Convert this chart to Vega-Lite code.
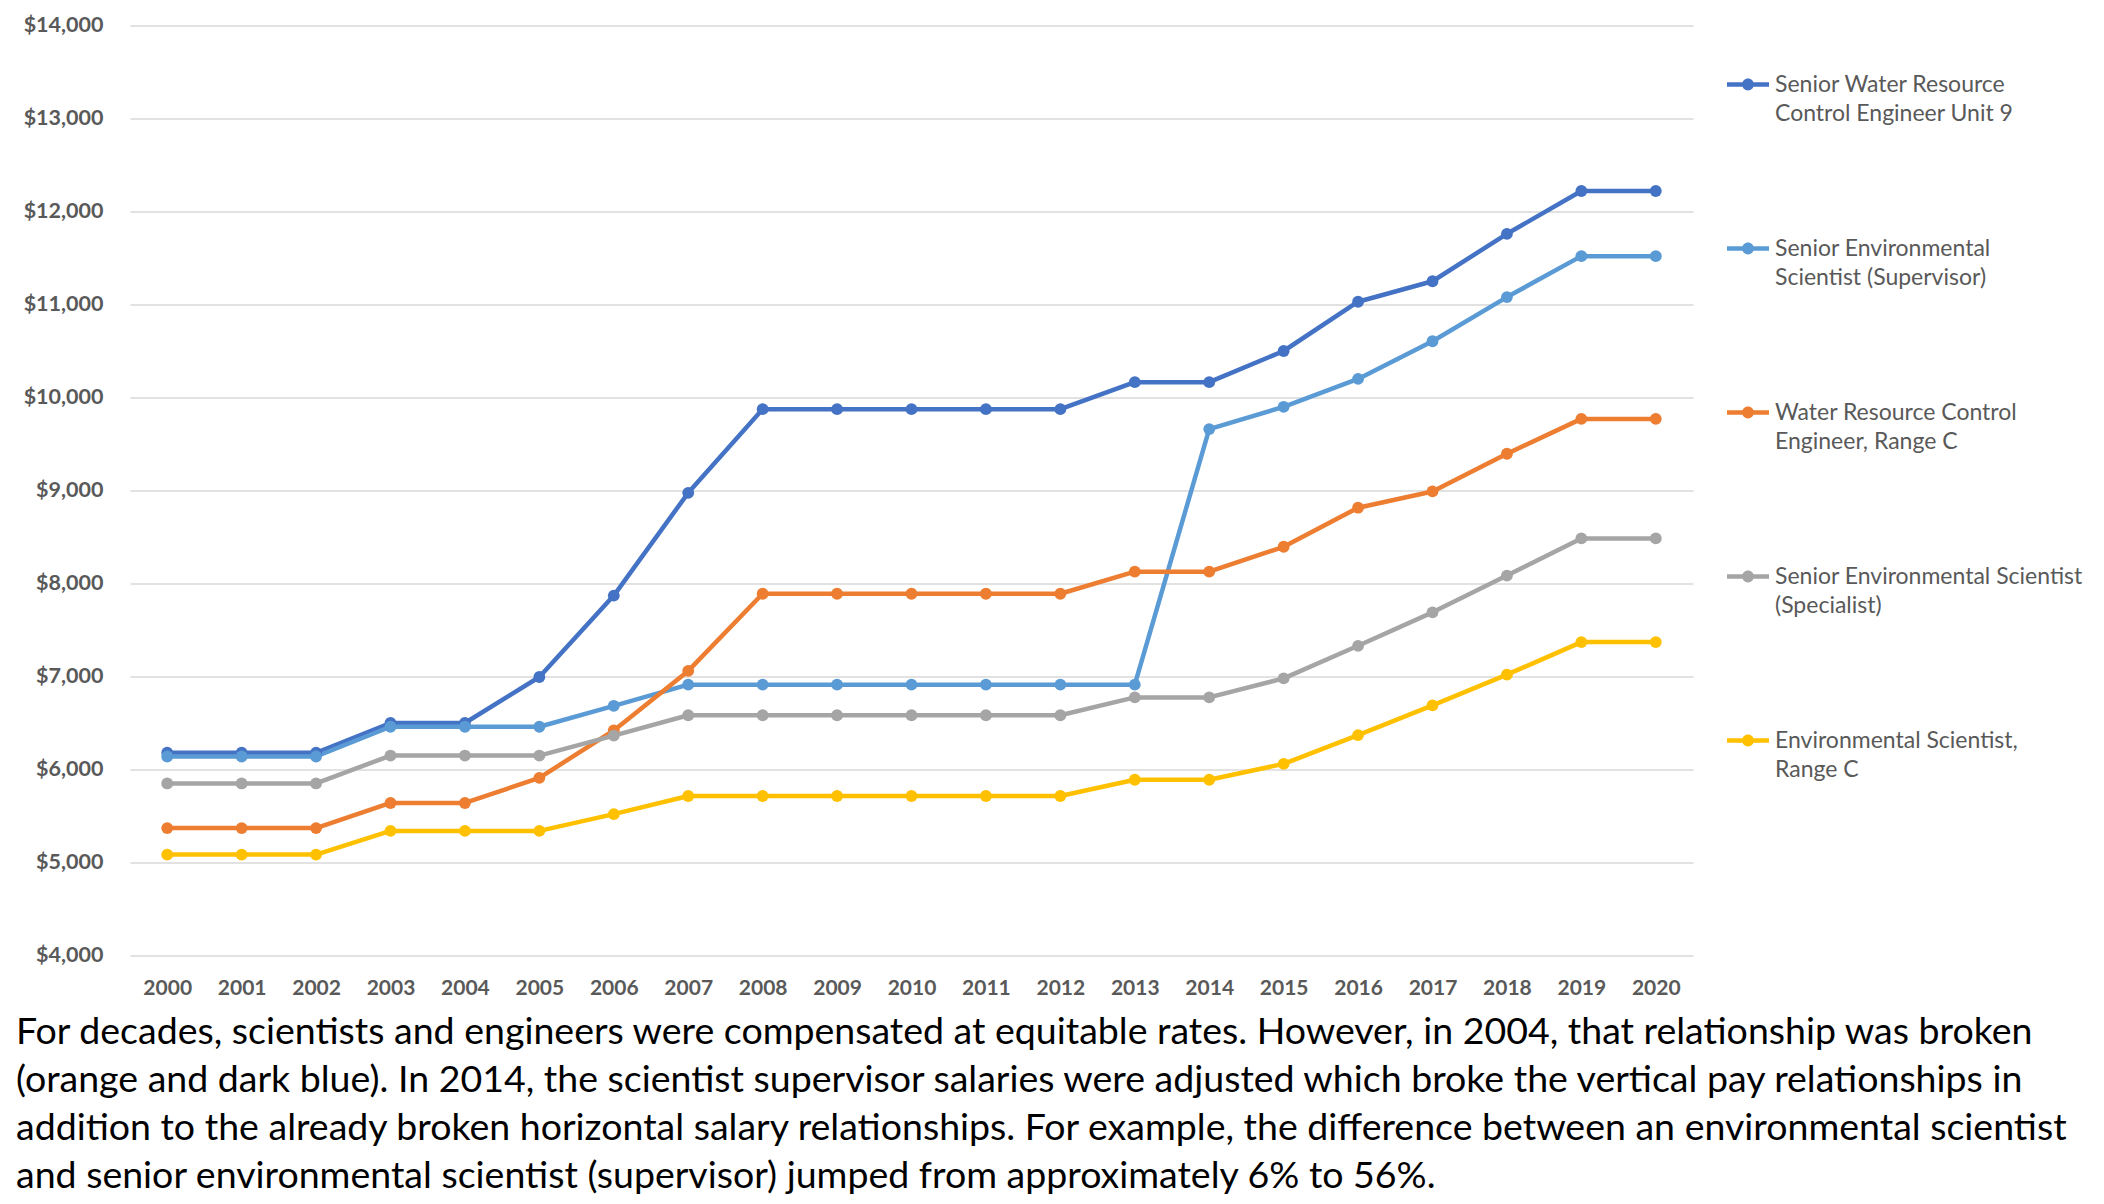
{
  "$schema": "https://vega.github.io/schema/vega-lite/v6.json",
  "width": 1563,
  "height": 930,
  "autosize": "none",
  "padding": {"left": 130, "top": 25.5, "right": 411, "bottom": 248.5},
  "background": "white",
  "title": {
    "text": [
      "For decades, scientists and engineers were compensated at equitable rates. However, in 2004, that relationship was broken",
      "(orange and dark blue). In 2014, the scientist supervisor salaries were adjusted which broke the vertical pay relationships in",
      "addition to the already broken horizontal salary relationships. For example, the difference between an environmental scientist",
      "and senior environmental scientist (supervisor) jumped from approximately 6% to 56%."
    ],
    "orient": "bottom",
    "anchor": "start",
    "frame": "group",
    "dx": -114,
    "offset": 15,
    "font": "Lato",
    "fontSize": 37.5,
    "fontWeight": "normal",
    "color": "#000000",
    "lineHeight": 48
  },
  "data": {
    "values": [
      {"year": "2000", "series": "Senior Water Resource|Control Engineer Unit 9", "value": 6180},
      {"year": "2001", "series": "Senior Water Resource|Control Engineer Unit 9", "value": 6180},
      {"year": "2002", "series": "Senior Water Resource|Control Engineer Unit 9", "value": 6180},
      {"year": "2003", "series": "Senior Water Resource|Control Engineer Unit 9", "value": 6500},
      {"year": "2004", "series": "Senior Water Resource|Control Engineer Unit 9", "value": 6500},
      {"year": "2005", "series": "Senior Water Resource|Control Engineer Unit 9", "value": 6995},
      {"year": "2006", "series": "Senior Water Resource|Control Engineer Unit 9", "value": 7870},
      {"year": "2007", "series": "Senior Water Resource|Control Engineer Unit 9", "value": 8975},
      {"year": "2008", "series": "Senior Water Resource|Control Engineer Unit 9", "value": 9875},
      {"year": "2009", "series": "Senior Water Resource|Control Engineer Unit 9", "value": 9875},
      {"year": "2010", "series": "Senior Water Resource|Control Engineer Unit 9", "value": 9875},
      {"year": "2011", "series": "Senior Water Resource|Control Engineer Unit 9", "value": 9875},
      {"year": "2012", "series": "Senior Water Resource|Control Engineer Unit 9", "value": 9875},
      {"year": "2013", "series": "Senior Water Resource|Control Engineer Unit 9", "value": 10165},
      {"year": "2014", "series": "Senior Water Resource|Control Engineer Unit 9", "value": 10165},
      {"year": "2015", "series": "Senior Water Resource|Control Engineer Unit 9", "value": 10500},
      {"year": "2016", "series": "Senior Water Resource|Control Engineer Unit 9", "value": 11030},
      {"year": "2017", "series": "Senior Water Resource|Control Engineer Unit 9", "value": 11250},
      {"year": "2018", "series": "Senior Water Resource|Control Engineer Unit 9", "value": 11760},
      {"year": "2019", "series": "Senior Water Resource|Control Engineer Unit 9", "value": 12220},
      {"year": "2020", "series": "Senior Water Resource|Control Engineer Unit 9", "value": 12220},

      {"year": "2000", "series": " Senior Environmental|Scientist (Supervisor)", "value": 6140},
      {"year": "2001", "series": " Senior Environmental|Scientist (Supervisor)", "value": 6140},
      {"year": "2002", "series": " Senior Environmental|Scientist (Supervisor)", "value": 6140},
      {"year": "2003", "series": " Senior Environmental|Scientist (Supervisor)", "value": 6460},
      {"year": "2004", "series": " Senior Environmental|Scientist (Supervisor)", "value": 6460},
      {"year": "2005", "series": " Senior Environmental|Scientist (Supervisor)", "value": 6460},
      {"year": "2006", "series": " Senior Environmental|Scientist (Supervisor)", "value": 6685},
      {"year": "2007", "series": " Senior Environmental|Scientist (Supervisor)", "value": 6912},
      {"year": "2008", "series": " Senior Environmental|Scientist (Supervisor)", "value": 6912},
      {"year": "2009", "series": " Senior Environmental|Scientist (Supervisor)", "value": 6912},
      {"year": "2010", "series": " Senior Environmental|Scientist (Supervisor)", "value": 6912},
      {"year": "2011", "series": " Senior Environmental|Scientist (Supervisor)", "value": 6912},
      {"year": "2012", "series": " Senior Environmental|Scientist (Supervisor)", "value": 6912},
      {"year": "2013", "series": " Senior Environmental|Scientist (Supervisor)", "value": 6912},
      {"year": "2014", "series": " Senior Environmental|Scientist (Supervisor)", "value": 9660},
      {"year": "2015", "series": " Senior Environmental|Scientist (Supervisor)", "value": 9900},
      {"year": "2016", "series": " Senior Environmental|Scientist (Supervisor)", "value": 10200},
      {"year": "2017", "series": " Senior Environmental|Scientist (Supervisor)", "value": 10605},
      {"year": "2018", "series": " Senior Environmental|Scientist (Supervisor)", "value": 11080},
      {"year": "2019", "series": " Senior Environmental|Scientist (Supervisor)", "value": 11520},
      {"year": "2020", "series": " Senior Environmental|Scientist (Supervisor)", "value": 11520},

      {"year": "2000", "series": "Water Resource Control|Engineer, Range C", "value": 5370},
      {"year": "2001", "series": "Water Resource Control|Engineer, Range C", "value": 5370},
      {"year": "2002", "series": "Water Resource Control|Engineer, Range C", "value": 5370},
      {"year": "2003", "series": "Water Resource Control|Engineer, Range C", "value": 5640},
      {"year": "2004", "series": "Water Resource Control|Engineer, Range C", "value": 5640},
      {"year": "2005", "series": "Water Resource Control|Engineer, Range C", "value": 5910},
      {"year": "2006", "series": "Water Resource Control|Engineer, Range C", "value": 6420},
      {"year": "2007", "series": "Water Resource Control|Engineer, Range C", "value": 7060},
      {"year": "2008", "series": "Water Resource Control|Engineer, Range C", "value": 7890},
      {"year": "2009", "series": "Water Resource Control|Engineer, Range C", "value": 7890},
      {"year": "2010", "series": "Water Resource Control|Engineer, Range C", "value": 7890},
      {"year": "2011", "series": "Water Resource Control|Engineer, Range C", "value": 7890},
      {"year": "2012", "series": "Water Resource Control|Engineer, Range C", "value": 7890},
      {"year": "2013", "series": "Water Resource Control|Engineer, Range C", "value": 8127},
      {"year": "2014", "series": "Water Resource Control|Engineer, Range C", "value": 8127},
      {"year": "2015", "series": "Water Resource Control|Engineer, Range C", "value": 8395},
      {"year": "2016", "series": "Water Resource Control|Engineer, Range C", "value": 8815},
      {"year": "2017", "series": "Water Resource Control|Engineer, Range C", "value": 8990},
      {"year": "2018", "series": "Water Resource Control|Engineer, Range C", "value": 9395},
      {"year": "2019", "series": "Water Resource Control|Engineer, Range C", "value": 9770},
      {"year": "2020", "series": "Water Resource Control|Engineer, Range C", "value": 9770},

      {"year": "2000", "series": "Senior Environmental Scientist|(Specialist)", "value": 5850},
      {"year": "2001", "series": "Senior Environmental Scientist|(Specialist)", "value": 5850},
      {"year": "2002", "series": "Senior Environmental Scientist|(Specialist)", "value": 5850},
      {"year": "2003", "series": "Senior Environmental Scientist|(Specialist)", "value": 6150},
      {"year": "2004", "series": "Senior Environmental Scientist|(Specialist)", "value": 6150},
      {"year": "2005", "series": "Senior Environmental Scientist|(Specialist)", "value": 6150},
      {"year": "2006", "series": "Senior Environmental Scientist|(Specialist)", "value": 6365},
      {"year": "2007", "series": "Senior Environmental Scientist|(Specialist)", "value": 6583},
      {"year": "2008", "series": "Senior Environmental Scientist|(Specialist)", "value": 6583},
      {"year": "2009", "series": "Senior Environmental Scientist|(Specialist)", "value": 6583},
      {"year": "2010", "series": "Senior Environmental Scientist|(Specialist)", "value": 6583},
      {"year": "2011", "series": "Senior Environmental Scientist|(Specialist)", "value": 6583},
      {"year": "2012", "series": "Senior Environmental Scientist|(Specialist)", "value": 6583},
      {"year": "2013", "series": "Senior Environmental Scientist|(Specialist)", "value": 6775},
      {"year": "2014", "series": "Senior Environmental Scientist|(Specialist)", "value": 6775},
      {"year": "2015", "series": "Senior Environmental Scientist|(Specialist)", "value": 6980},
      {"year": "2016", "series": "Senior Environmental Scientist|(Specialist)", "value": 7330},
      {"year": "2017", "series": "Senior Environmental Scientist|(Specialist)", "value": 7690},
      {"year": "2018", "series": "Senior Environmental Scientist|(Specialist)", "value": 8085},
      {"year": "2019", "series": "Senior Environmental Scientist|(Specialist)", "value": 8485},
      {"year": "2020", "series": "Senior Environmental Scientist|(Specialist)", "value": 8485},

      {"year": "2000", "series": "Environmental Scientist,|Range C", "value": 5085},
      {"year": "2001", "series": "Environmental Scientist,|Range C", "value": 5085},
      {"year": "2002", "series": "Environmental Scientist,|Range C", "value": 5085},
      {"year": "2003", "series": "Environmental Scientist,|Range C", "value": 5340},
      {"year": "2004", "series": "Environmental Scientist,|Range C", "value": 5340},
      {"year": "2005", "series": "Environmental Scientist,|Range C", "value": 5340},
      {"year": "2006", "series": "Environmental Scientist,|Range C", "value": 5520},
      {"year": "2007", "series": "Environmental Scientist,|Range C", "value": 5715},
      {"year": "2008", "series": "Environmental Scientist,|Range C", "value": 5715},
      {"year": "2009", "series": "Environmental Scientist,|Range C", "value": 5715},
      {"year": "2010", "series": "Environmental Scientist,|Range C", "value": 5715},
      {"year": "2011", "series": "Environmental Scientist,|Range C", "value": 5715},
      {"year": "2012", "series": "Environmental Scientist,|Range C", "value": 5715},
      {"year": "2013", "series": "Environmental Scientist,|Range C", "value": 5890},
      {"year": "2014", "series": "Environmental Scientist,|Range C", "value": 5890},
      {"year": "2015", "series": "Environmental Scientist,|Range C", "value": 6060},
      {"year": "2016", "series": "Environmental Scientist,|Range C", "value": 6370},
      {"year": "2017", "series": "Environmental Scientist,|Range C", "value": 6690},
      {"year": "2018", "series": "Environmental Scientist,|Range C", "value": 7020},
      {"year": "2019", "series": "Environmental Scientist,|Range C", "value": 7370},
      {"year": "2020", "series": "Environmental Scientist,|Range C", "value": 7370}
    ]
  },
  "encoding": {
    "x": {
      "field": "year",
      "type": "ordinal",
      "scale": {"type": "point", "padding": 0.5},
      "axis": {
        "title": null,
        "labelAngle": 0,
        "domain": false,
        "ticks": false,
        "grid": false,
        "labelPadding": 22,
        "labelFont": "Lato",
        "labelFontSize": 21,
        "labelFontWeight": "bold",
        "labelColor": "#595959"
      }
    },
    "y": {
      "field": "value",
      "type": "quantitative",
      "scale": {"domain": [4000, 14000], "nice": false, "zero": false},
      "axis": {
        "title": null,
        "values": [4000, 5000, 6000, 7000, 8000, 9000, 10000, 11000, 12000, 13000, 14000],
        "format": "$,.0f",
        "domain": false,
        "ticks": false,
        "grid": true,
        "gridColor": "#D9D9D9",
        "gridWidth": 1.5,
        "labelPadding": 27,
        "labelFont": "Lato",
        "labelFontSize": 21.5,
        "labelFontWeight": "bold",
        "labelColor": "#595959"
      }
    }
  },
  "layer": [
    {
      "mark": {"type": "line", "strokeWidth": 4.5, "strokeJoin": "round"},
      "encoding": {
        "color": {
          "field": "series",
          "type": "nominal",
          "scale": {
            "domain": [
              "Senior Water Resource|Control Engineer Unit 9",
              " Senior Environmental|Scientist (Supervisor)",
              "Water Resource Control|Engineer, Range C",
              "Senior Environmental Scientist|(Specialist)",
              "Environmental Scientist,|Range C"
            ],
            "range": ["#4472C4", "#5B9BD5", "#ED7D31", "#A5A5A5", "#FFC000"]
          },
          "legend": null
        }
      }
    },
    {
      "mark": {"type": "point", "filled": true, "opacity": 1, "size": 140, "shape": "circle"},
      "encoding": {
        "color": {
          "field": "series",
          "type": "nominal",
          "scale": {
            "domain": [
              "Senior Water Resource|Control Engineer Unit 9",
              " Senior Environmental|Scientist (Supervisor)",
              "Water Resource Control|Engineer, Range C",
              "Senior Environmental Scientist|(Specialist)",
              "Environmental Scientist,|Range C"
            ],
            "range": ["#4472C4", "#5B9BD5", "#ED7D31", "#A5A5A5", "#FFC000"]
          },
          "legend": {
            "orient": "none",
            "legendX": 1597,
            "legendY": -23,
            "title": null,
            "padding": 0,
            "symbolType": "M-1,-0.11L1,-0.11L1,0.11L-1,0.11Z M0.28,0A0.28,0.28,0,1,1,-0.28,0A0.28,0.28,0,1,1,0.28,0Z",
            "symbolSize": 1764,
            "symbolStrokeWidth": 0,
            "symbolOpacity": 1,
            "labelFont": "Lato",
            "labelFontSize": 23,
            "labelColor": "#595959",
            "labelLimit": 400,
            "labelOffset": 6,
            "labelExpr": "split(datum.label, '|')",
            "clipHeight": 164,
            "rowPadding": 0
          }
        }
      }
    }
  ],
  "resolve": {"legend": {"color": "independent"}},
  "config": {
    "view": {"stroke": null},
    "style": {"guide-label": {"lineHeight": 29.5}}
  }
}
